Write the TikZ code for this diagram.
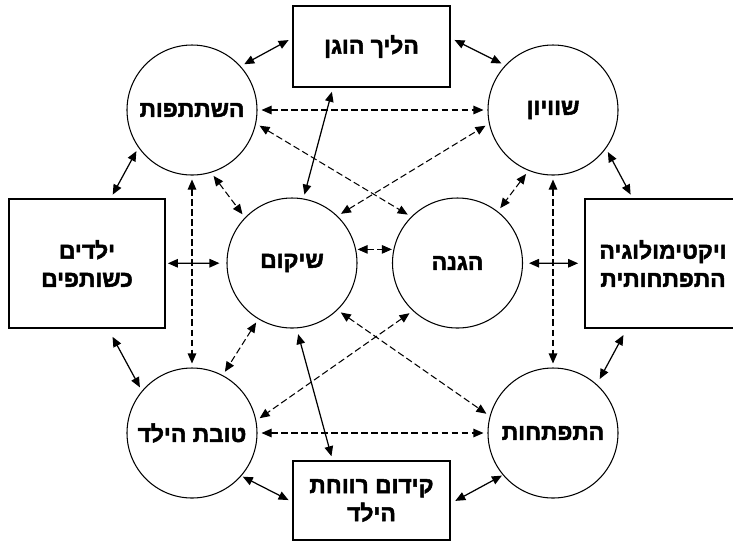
\documentclass[tikz,border=0pt]{standalone}
\usepackage{fontspec}
\newfontfamily\hebfont[Script=Hebrew,FakeBold=2.2]{Liberation Sans Bold}
\TeXXeTstate=1
\newcommand{\heb}[1]{\beginR #1\endR}
\usepackage{tikz}
\usetikzlibrary{arrows.meta,calc}

\begin{document}
\begin{tikzpicture}[
  circ/.style={circle,draw,line width=0.6pt,minimum size=2.6cm,inner sep=0pt,font=\hebfont\fontsize{13}{16}\selectfont},
  box/.style={rectangle,draw,line width=1pt,inner sep=0pt,align=center,font=\hebfont\fontsize{13}{16}\selectfont},
  both/.style={{Triangle[length=2mm,width=1.7mm]}-{Triangle[length=2mm,width=1.7mm]},line width=0.7pt,shorten <=0.08cm,shorten >=0.08cm},
  dboth/.style={both,dash pattern=on 3.8pt off 1.9pt,line width=0.6pt}]
\useasboundingbox (0,0) rectangle (14.66,-10.84);
\node[circ] (part) at (3.84,-2.2) {\heb{השתתפות}};
\node[circ] (equal) at (11.06,-2.2) {\heb{שוויון}};
\node[circ] (rehab) at (5.84,-5.26) {\heb{שיקום}};
\node[circ] (protect) at (9.15,-5.26) {\heb{הגנה}};
\node[circ] (welfare) at (3.84,-8.66) {\heb{טובת הילד}};
\node[circ] (devel) at (11.06,-8.66) {\heb{התפתחות}};
\node[box,minimum width=3.14cm,minimum height=1.62cm] (fair) at (7.43,-0.93) {\heb{הליך הוגן}};
\node[box,minimum width=3.14cm,minimum height=1.58cm] (promote) at (7.43,-10.01) {\heb{קידום רווחת}\\\heb{הילד}};
\node[box,minimum width=3.12cm,minimum height=2.58cm] (kids) at (1.74,-5.27) {\heb{ילדים}\\\heb{כשותפים}};
\node[box,minimum width=3.12cm,minimum height=2.58cm] (victim) at (13.26,-5.27) {\heb{ויקטימולוגיה}\\\heb{התפתחותית}};
\draw[both] (part.42) -- (fair.174);
\draw[both] (equal.137) -- (fair.6);
\draw[both] (part.215) -- (kids.70);
\draw[both] (equal.-36) -- (victim.115);
\draw[both,shorten <=0.04cm,shorten >=0.14cm] (kids) -- (rehab);
\draw[both,shorten <=0.12cm,shorten >=0.12cm] (protect) -- (victim);
\draw[both,shorten <=0.18cm] (kids.-72) -- (welfare.140);
\draw[both,shorten <=0.14cm,shorten >=0.12cm] (victim.241) -- (devel.48);
\draw[both,shorten <=0.03cm] (welfare.-41) -- (promote.181);
\draw[both,shorten <=0.02cm,shorten >=0.1cm] (devel.220) -- (promote.-2);
\draw[both] (fair.227) -- (rehab.80);
\draw[both,shorten <=0.12cm] (rehab.-86) -- (promote.134);
\draw[dboth] (part) -- (equal);
\draw[dboth] (welfare) -- (devel);
\draw[dboth] (part) -- (welfare);
\draw[dboth] (equal) -- (devel);
\draw[dboth] (part.-73) -- (rehab.136);
\draw[dboth] (equal.248) -- (protect.52);
\draw[dboth] (rehab.239) -- (welfare.62);
\draw[dboth] (protect.227) -- (welfare.11);
\draw[dboth] (part.-12) -- (protect.135);
\draw[dboth] (rehab.46) -- (equal.192);
\draw[dboth] (rehab.-46) -- (devel.165);
\draw[dboth,shorten <=0.03cm,shorten >=0.03cm] (rehab.12) -- (protect.168);
\end{tikzpicture}
\end{document}
